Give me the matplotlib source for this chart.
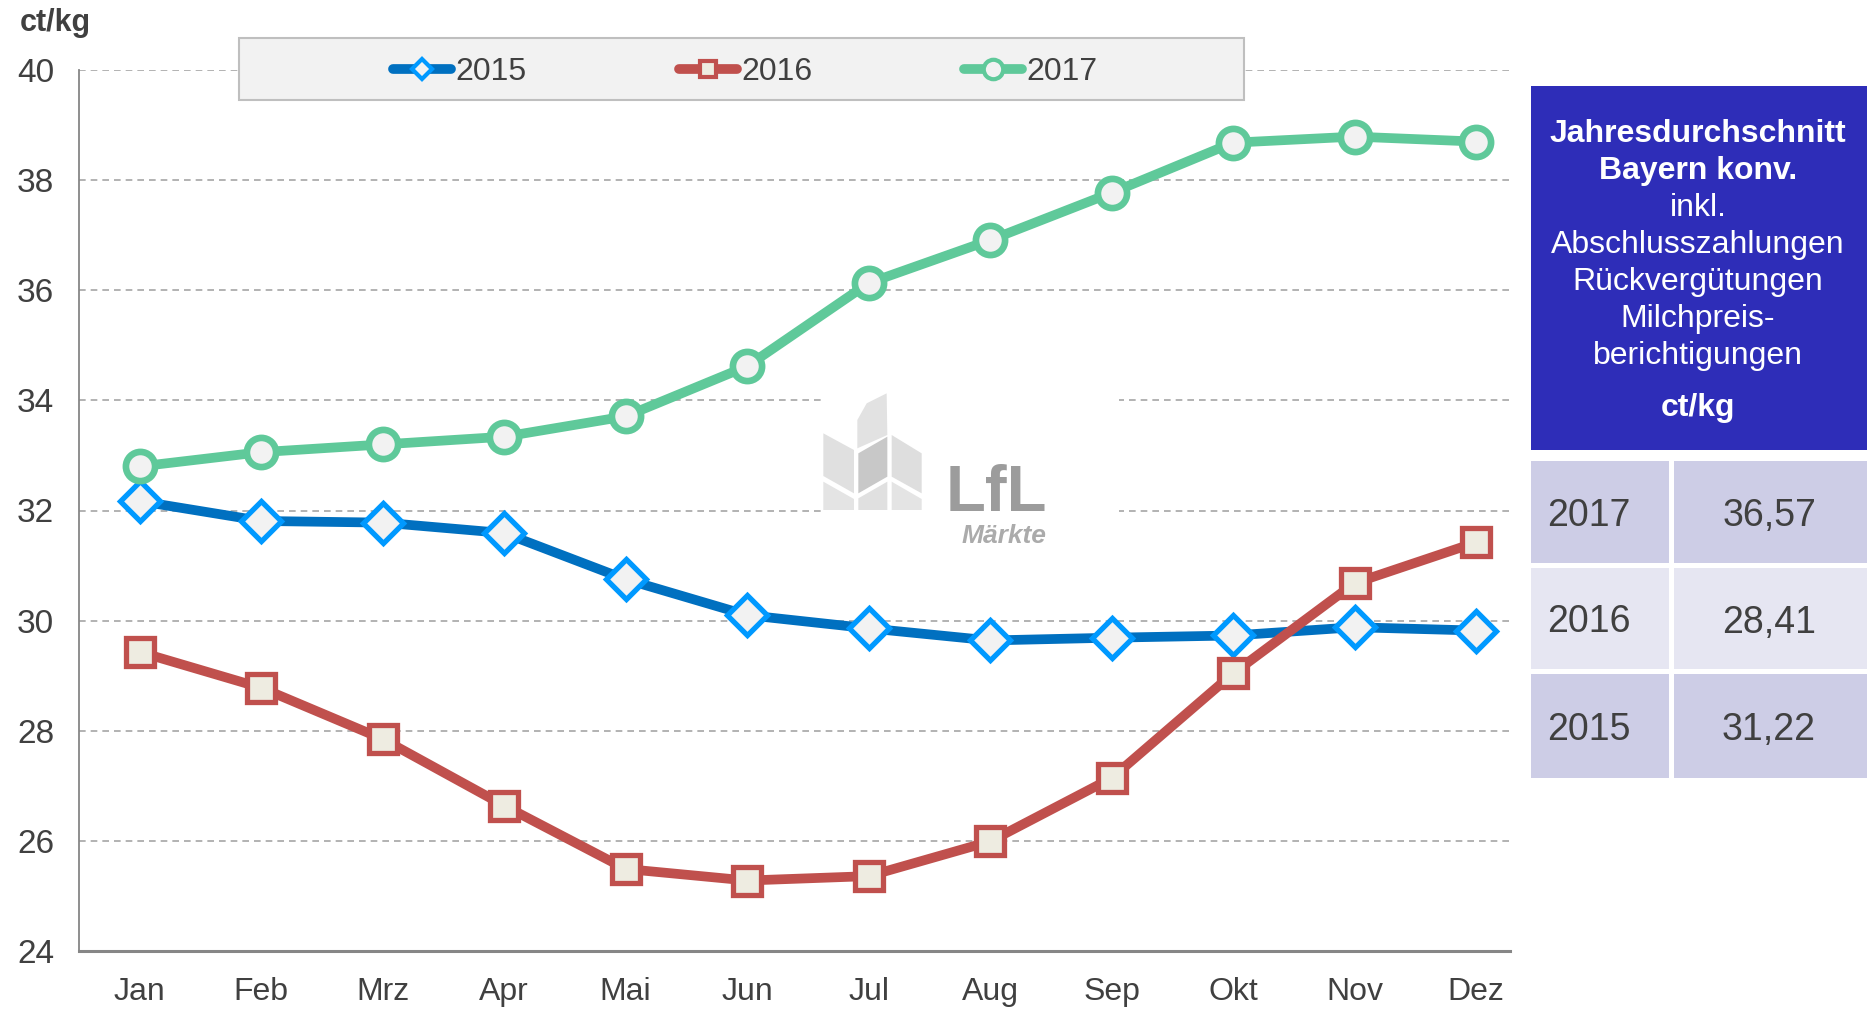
import matplotlib
matplotlib.use('Agg')
import matplotlib.pyplot as plt
from matplotlib.patches import Rectangle, Polygon
from matplotlib.lines import Line2D
from matplotlib.transforms import Affine2D

plt.rcParams['font.family'] = ['Liberation Sans', 'DejaVu Sans']

months = ['Jan', 'Feb', 'Mrz', 'Apr', 'Mai', 'Jun', 'Jul', 'Aug', 'Sep', 'Okt', 'Nov', 'Dez']
p2015 = [32.17, 31.81, 31.78, 31.59, 30.75, 30.10, 29.86, 29.64, 29.69, 29.73, 29.88, 29.82]
p2016 = [29.43, 28.78, 27.85, 26.64, 25.49, 25.28, 25.36, 25.99, 27.14, 29.04, 30.68, 31.42]
p2017 = [32.80, 33.06, 33.20, 33.34, 33.71, 34.62, 36.13, 36.91, 37.77, 38.68, 38.79, 38.70]
yticks = [24, 26, 28, 30, 32, 34, 36, 38, 40]

avg_years = ['2017', '2016', '2015']
avg_values = [36.57, 28.41, 31.22]
header_lines = [('Jahresdurchschnitt', 'bold'), ('Bayern konv.', 'bold'), ('inkl.', 'normal'),
                ('Abschlusszahlungen', 'normal'), ('Rückvergütungen', 'normal'),
                ('Milchpreis-', 'normal'), ('berichtigungen', 'normal')]

W, H = 1867, 1009
fig = plt.figure(figsize=(W / 100, H / 100), dpi=100)
px = Affine2D().scale(1 / W, -1 / H).translate(0, 1) + fig.transFigure  # pixel coords, y down

txt = '#404040'
styles = {
    '2015': dict(color='#0070c0', marker='D', mfc='#f2f2f2', mec='#0099ff'),
    '2016': dict(color='#c0504d', marker='s', mfc='#eeece1', mec='#c0504d'),
    '2017': dict(color='#5fc99a', marker='o', mfc='#f2f2f2', mec='#5fc99a'),
}
main_ms = {'2015': 20, '2016': 19.5, '2017': 21}
main_mew = {'2015': 3.8, '2016': 3.8, '2017': 4.8}

ax = fig.add_axes([79 / W, 1 - 951 / H, (1510 - 79) / W, (951 - 70) / H])
x = list(range(len(months)))
for year, vals in [('2015', p2015), ('2016', p2016), ('2017', p2017)]:
    ax.plot(x, vals, lw=7, ms=main_ms[year], mew=main_mew[year], zorder=3,
            solid_joinstyle='round', **styles[year])

ax.set_xlim(-0.5, 11.28)
ax.set_ylim(24, 40)
ax.set_yticks(yticks)
ax.set_xticks(x)
ax.set_xticklabels(months)
ax.tick_params(length=0, colors=txt)
ax.tick_params(axis='y', pad=18, labelsize=24)
ax.tick_params(axis='x', pad=19, labelsize=23)
ax.set_axisbelow(True)
ax.grid(axis='y', color='#a6a6a6', ls=(0, (4, 3)), lw=1.2)
for s in ['top', 'right']:
    ax.spines[s].set_visible(False)
ax.spines['left'].set_color('#868686')
ax.spines['left'].set_linewidth(1.3)
ax.spines['bottom'].set_color('#868686')
ax.spines['bottom'].set_linewidth(2.2)

fig.text(20, 23, 'ct/kg', transform=px, fontsize=22, fontweight='bold', color=txt, va='center')

# watermark logo
ax.add_patch(Rectangle((822, 387), 297, 161, transform=px, fc='white', ec='none', zorder=1.5))
leaves = [
    ([(130, 190), (222, 240), (222, 370), (130, 318)], '#e0e0e0'),
    ([(130, 335), (222, 387), (222, 420), (130, 420)], '#e4e4e4'),
    ([(232, 235), (232, 150), (260, 100), (320, 70), (322, 195)], '#e2e2e2'),
    ([(235, 250), (322, 200), (322, 320), (235, 370)], '#c8c8c8'),
    ([(235, 385), (322, 335), (322, 420), (235, 420)], '#e0e0e0'),
    ([(335, 195), (425, 250), (425, 370), (335, 320)], '#dedede'),
    ([(335, 335), (425, 387), (425, 420), (335, 420)], '#e4e4e4'),
]
for pts, c in leaves:
    ax.add_patch(Polygon([(780 + a / 3, 370 + b / 3) for a, b in pts], closed=True,
                         transform=px, fc=c, ec='none', zorder=1.6))
ax.text(946, 511, 'LfL', transform=px, fontsize=47, fontweight='bold', color='#9c9c9c',
        va='baseline', zorder=1.7)
ax.text(962, 543, 'Märkte', transform=px, fontsize=19, fontweight='bold', style='italic',
        color='#ababab', va='baseline', zorder=1.7)

# legend
fig.add_artist(Rectangle((239, 38), 1005, 62, transform=px, fc='#f2f2f2', ec='#bfbfbf', lw=1.5))
leg_ms = {'2015': 10.5, '2016': 12, '2017': 14}
leg_x = {'2015': 393, '2016': 679, '2017': 964}
for year in ['2015', '2016', '2017']:
    x0 = leg_x[year]
    fig.add_artist(Line2D([x0, x0 + 58], [69, 69], transform=px, lw=7, solid_capstyle='round',
                          color=styles[year]['color']))
    st = dict(styles[year])
    st.pop('color')
    fig.add_artist(Line2D([x0 + 29], [69], transform=px, ls='none', ms=leg_ms[year], mew=3, **st))
    fig.text(x0 + 62, 69, year, transform=px, fontsize=23, color=txt, va='center_baseline')

# table on the right
fig.add_artist(Rectangle((1531, 86), 336, 364, transform=px, fc='#2e2db8', ec='none'))
for i, (line, wt) in enumerate(header_lines):
    fig.text(1698, 134 + i * 37.0, line, transform=px, fontsize=23, fontweight=wt,
             color='white', ha='center', va='center')
fig.text(1698, 408, 'ct/kg', transform=px, fontsize=23, fontweight='bold', color='white',
         ha='center', va='center')

row_top = [461, 568, 674]
row_h = [102, 101, 104]
row_c = ['#cdcde6', '#e6e6f2', '#cdcde6']
for yr, val, top, h, c in zip(avg_years, avg_values, row_top, row_h, row_c):
    fig.add_artist(Rectangle((1531, top), 138, h, transform=px, fc=c, ec='none'))
    fig.add_artist(Rectangle((1674, top), 193, h, transform=px, fc=c, ec='none'))
    fig.text(1547, top + h / 2 + 4, yr, transform=px, fontsize=27, color=txt, va='center')
    fig.text(1769, top + h / 2 + 4, f'{val:.2f}'.replace('.', ','), transform=px, fontsize=27,
             color=txt, ha='center', va='center')

fig.savefig('out.png', dpi=100)
